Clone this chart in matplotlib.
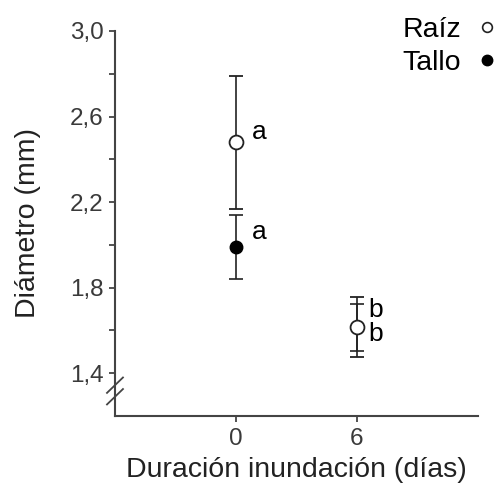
import numpy as np
import matplotlib.pyplot as plt

plt.rcParams['font.family'] = ['Liberation Sans', 'DejaVu Sans']

# duration of flooding (days)
dias = [0, 6]

# diameter (mm), mean and error
raiz_media = [2.48, 1.615]
raiz_err = [0.31, 0.14]
tallo_media = [1.99, 1.615]
tallo_err = [0.15, 0.11]

# significance letters
raiz_letras = ['a', 'b']
tallo_letras = ['a', 'b']

yticks = [1.4, 1.8, 2.2, 2.6, 3.0]
yticks_menores = [1.6, 2.0, 2.4, 2.8]
xticks = [0, 6]

gris = '#444444'

fig = plt.figure(figsize=(5.01, 4.92), dpi=100)
ax = fig.add_axes([0.2295, 0.1545, 0.7245, 0.7825])

ax.errorbar(dias, tallo_media, yerr=tallo_err, fmt='o', color='black',
            ecolor='#222222', elinewidth=1.2, capsize=5, capthick=1.2,
            markersize=9, markerfacecolor='black', markeredgecolor='black',
            zorder=3)
ax.errorbar(dias, raiz_media, yerr=raiz_err, fmt='o', color='black',
            ecolor='#222222', elinewidth=1.2, capsize=5, capthick=1.2,
            markersize=10, markerfacecolor='white', markeredgecolor='#222222',
            markeredgewidth=1.3, zorder=4)

# letters next to the means
ax.text(dias[0] + 0.8, raiz_media[0] + 0.05, raiz_letras[0], fontsize=19, va='center')
ax.text(dias[0] + 0.8, tallo_media[0] + 0.07, tallo_letras[0], fontsize=19, va='center')
ax.text(dias[1] + 0.55, raiz_media[1] + 0.08, raiz_letras[1], fontsize=19, va='center')
ax.text(dias[1] + 0.55, tallo_media[1] - 0.03, tallo_letras[1], fontsize=19, va='center')

ax.set_xlim(-6, 12)
ax.set_ylim(1.2, 3.0)
ax.set_xticks(xticks)
ax.set_yticks(yticks)
ax.set_yticks(yticks_menores, minor=True)
ax.set_yticklabels([f'{v:.1f}'.replace('.', ',') for v in yticks])

for s in ['top', 'right']:
    ax.spines[s].set_visible(False)
for s in ['left', 'bottom']:
    ax.spines[s].set_color(gris)
    ax.spines[s].set_linewidth(1.5)

ax.tick_params(axis='both', which='both', direction='out', length=4, width=1.3,
               color=gris, labelsize=17.5, labelcolor='#3a3a3a')
ax.tick_params(axis='y', pad=4)
ax.tick_params(axis='x', pad=5)

ax.set_xlabel('Duración inundación (días)', fontsize=20.5, color='#222222', labelpad=5)
ax.set_ylabel('Diámetro (mm)', fontsize=20.5, color='#222222', labelpad=21)

# axis break on y
for dy in (0, 0.03):
    ax.plot([-0.022, 0.022], [0.03 + dy, 0.07 + dy], transform=ax.transAxes,
            color=gris, lw=1.3, clip_on=False)

# legend with text first, markers on the right
h1, = ax.plot([], [], 'o', markerfacecolor='white', markeredgecolor='#222222',
              markersize=7, markeredgewidth=1.2)
h2, = ax.plot([], [], 'o', color='black', markersize=7.5)
fig.legend([h1, h2], ['Raíz', 'Tallo'], loc='upper right',
           bbox_to_anchor=(1.04, 1.018), frameon=False, markerfirst=False,
           fontsize=20.5, handlelength=0.6, handletextpad=0.6, labelspacing=0.25)

fig.savefig('out.png', dpi=100)
